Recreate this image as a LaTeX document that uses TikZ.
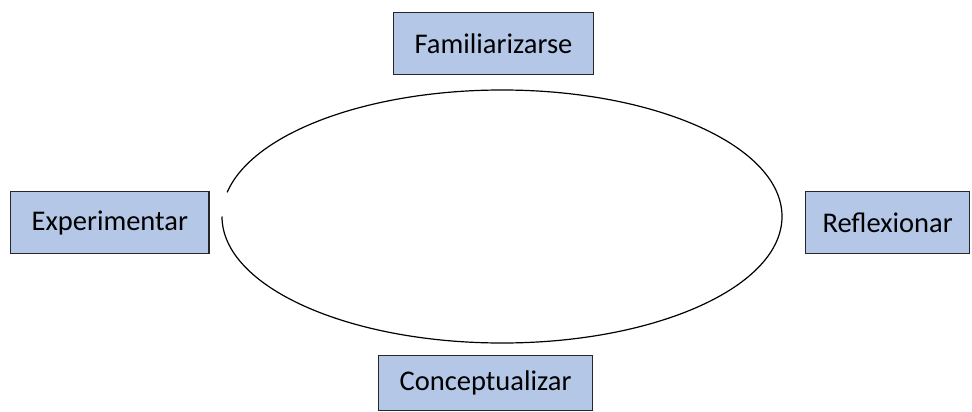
\documentclass[tikz,border=0pt]{standalone}
\usepackage{fontspec}
\setmainfont{Carlito}
\usepackage{tikz}
\usetikzlibrary{positioning}
\definecolor{boxblue}{HTML}{B4C7E7}

\begin{document}
\begin{tikzpicture}[x=1pt, y=1pt, stage/.style={rectangle, draw=black!85, fill=boxblue, line width=1.3pt, minimum height=62pt, inner xsep=21pt, font=\fontsize{28.5}{34}\selectfont}]
            \useasboundingbox (0, 0) rectangle (972, -412);
            
            \node[stage, anchor=north west](familiar) at (393, -12) {Familiarizarse};
            \node[stage, anchor=north west](experim) at (10, -191) {Experimentar};
            \node[stage, anchor=north west, inner xsep=0pt, minimum width=164pt](reflex) at (805, -191) {Reflexionar};
            \node[stage, anchor=north west, minimum height=55pt](concept) at (378, -355) {Conceptualizar};
            
            % cycle, open on the left
            \coordinate (cyclestart) at (222, -216.5);
            \draw[line width=1.2pt] (cyclestart) arc[start angle=180, end angle=529, x radius=280pt, y radius=126.5pt];
            
        \end{tikzpicture}
\end{document}
